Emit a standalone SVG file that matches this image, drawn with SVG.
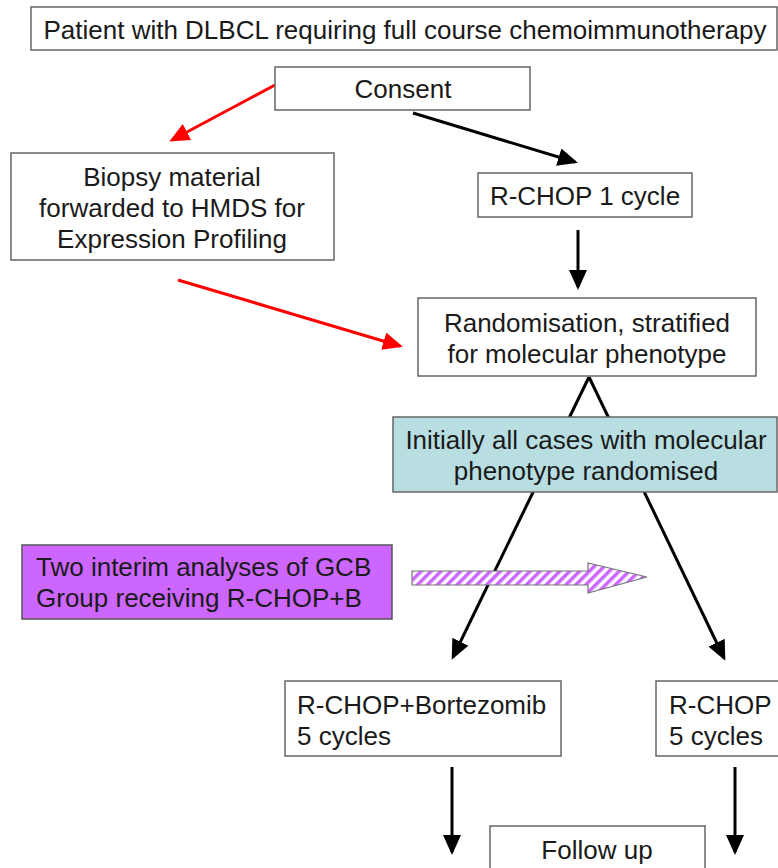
<svg xmlns="http://www.w3.org/2000/svg" width="778" height="868" viewBox="0 0 778 868">
<style>
.box{fill:#fff;stroke:#666;stroke-width:1.5}
.t{font-family:"Liberation Sans",Arial,sans-serif;font-size:26px;fill:#1a1a1a}
.c{text-anchor:middle}
.blk{stroke:#000;stroke-width:3;fill:none}
.red{stroke:#ff0000;stroke-width:3;fill:none}
</style>
<defs>
<marker id="ab" markerUnits="userSpaceOnUse" markerWidth="20" markerHeight="18" refX="17" refY="9" orient="auto">
<path d="M0,0 L20,9 L0,18 z" fill="#000"/>
</marker>
<marker id="ar" markerUnits="userSpaceOnUse" markerWidth="20" markerHeight="18" refX="17" refY="9" orient="auto">
<path d="M0,0 L20,9 L0,18 z" fill="#ff0000"/>
</marker>
<pattern id="stripe" patternUnits="userSpaceOnUse" width="7" height="7" patternTransform="rotate(45)">
<rect width="7" height="7" fill="#fff"/>
<rect width="3.5" height="7" fill="#cc66ff"/>
</pattern>
</defs>
<rect width="778" height="868" fill="#fff"/>

<g id="connectors">
<line class="red" x1="275" y1="85" x2="172" y2="140" marker-end="url(#ar)"/>
<line class="blk" x1="413" y1="113" x2="575" y2="162" marker-end="url(#ab)"/>
<line class="blk" x1="578" y1="230" x2="578" y2="287" marker-end="url(#ab)"/>
<line class="red" x1="178" y1="280" x2="400" y2="346" marker-end="url(#ar)"/>
<line class="blk" x1="589" y1="377" x2="453" y2="657" marker-end="url(#ab)"/>
<line class="blk" x1="589" y1="377" x2="724" y2="658" marker-end="url(#ab)"/>
<line class="blk" x1="452" y1="767" x2="452" y2="852" marker-end="url(#ab)"/>
<line class="blk" x1="735" y1="767" x2="735" y2="852" marker-end="url(#ab)"/>
</g>

<g id="patient">
<rect class="box" x="31" y="7" width="746" height="43"/>
<text class="t c" x="405" y="39">Patient with DLBCL requiring full course chemoimmunotherapy</text>
</g>
<g id="consent">
<rect class="box" x="275" y="67" width="255" height="43"/>
<text class="t c" x="403" y="98">Consent</text>
</g>
<g id="biopsy">
<rect class="box" x="11" y="153" width="323" height="107"/>
<text class="t c" x="172" y="186">Biopsy material</text>
<text class="t c" x="172" y="217">forwarded to HMDS for</text>
<text class="t c" x="172" y="248">Expression Profiling</text>
</g>
<g id="rchop1">
<rect class="box" x="478" y="173" width="214" height="44"/>
<text class="t c" x="585" y="205">R-CHOP 1 cycle</text>
</g>
<g id="randomisation">
<rect class="box" x="418" y="298" width="338" height="78"/>
<text class="t c" x="587" y="332">Randomisation, stratified</text>
<text class="t c" x="587" y="363">for molecular phenotype</text>
</g>
<g id="initially">
<rect x="393" y="417" width="384" height="75" fill="#b8dee1" stroke="#666" stroke-width="1.5"/>
<text class="t c" x="586" y="449">Initially all cases with molecular</text>
<text class="t c" x="586" y="480">phenotype randomised</text>
</g>
<g id="interim">
<rect x="22" y="545" width="370" height="74" fill="#cc66ff" stroke="#555" stroke-width="1.5"/>
<text class="t" x="36" y="576">Two interim analyses of GCB</text>
<text class="t" x="36" y="607">Group receiving R-CHOP+B</text>
</g>
<g id="striped-arrow">
<path d="M412,571 L588,571 L588,563 L647,577 L588,593 L588,585 L412,585 z" fill="url(#stripe)" stroke="#777" stroke-width="1.2"/>
</g>
<g id="rchopb">
<rect class="box" x="285" y="681" width="276" height="75"/>
<text class="t" x="297" y="714">R-CHOP+Bortezomib</text>
<text class="t" x="297" y="745">5 cycles</text>
</g>
<g id="rchop5">
<rect class="box" x="656" y="681" width="130" height="75"/>
<text class="t" x="669" y="714">R-CHOP</text>
<text class="t" x="669" y="745">5 cycles</text>
</g>
<g id="followup">
<rect class="box" x="490" y="826" width="215" height="60"/>
<text class="t c" x="597" y="859">Follow up</text>
</g>
</svg>
